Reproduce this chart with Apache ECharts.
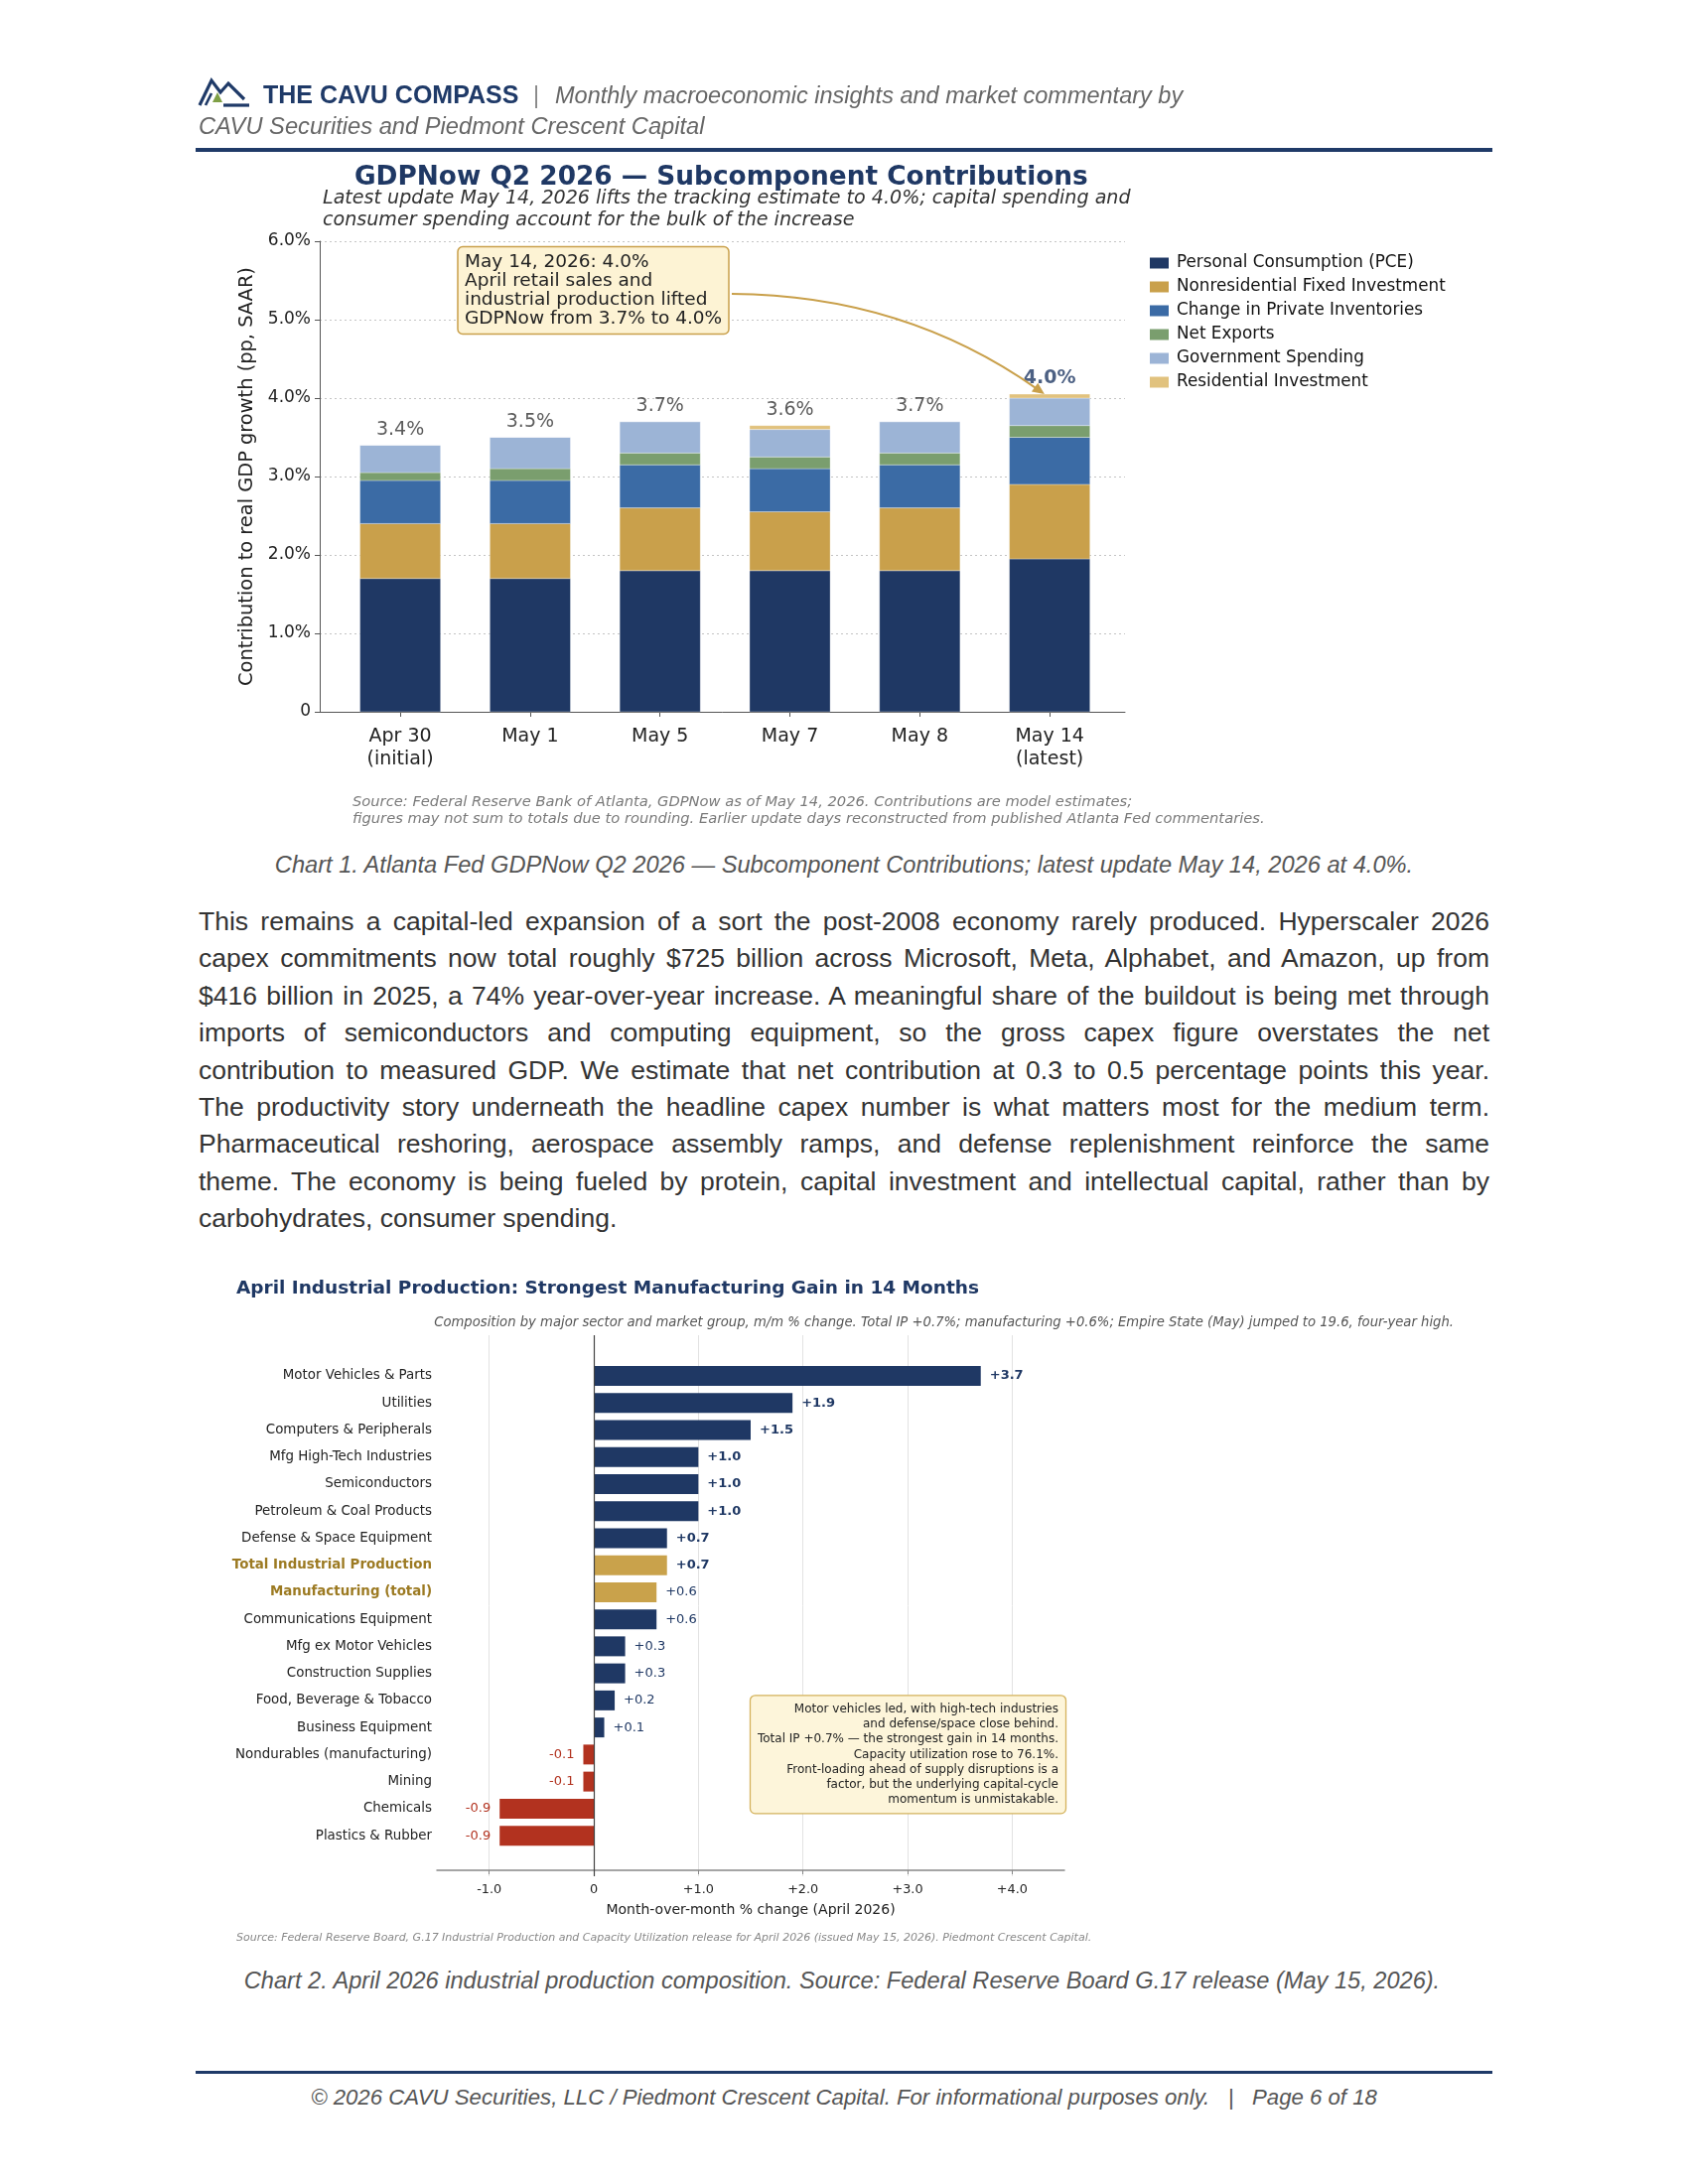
<!DOCTYPE html>
<html>
<head>
<meta charset="utf-8">
<script src="https://cdn.jsdelivr.net/npm/echarts@6/dist/echarts.min.js"></script>
<style>
html,body{margin:0;padding:0;background:#fff;}
#page{position:relative;width:1700px;height:2200px;overflow:hidden;font-family:'Liberation Sans',Arial,sans-serif;}
.abs{position:absolute;white-space:nowrap;}
#chart1{position:absolute;left:0;top:0;width:1700px;height:850px;}
#chart2{position:absolute;left:0;top:1260px;width:1700px;height:720px;}
.para{position:absolute;left:200px;top:910px;width:1300px;font-size:26.5px;line-height:37.4px;color:#333;}
.para div{text-align:justify;text-align-last:justify;}
.para div.last{text-align:left;text-align-last:left;}
</style>
</head>
<body>
<div id="page">
  <div id="chart1"></div>
  <div id="chart2"></div>

  <svg class="abs" style="left:198px;top:76px" width="58" height="34" viewBox="0 0 58 34">
    <path d="M3,30 L15,5 L24,17 L32,8 L48,24" fill="none" stroke="#1f3a68" stroke-width="3.2" stroke-linejoin="miter"/>
    <path d="M9,30 L15,18" fill="none" stroke="#1f3a68" stroke-width="2.6"/>
    <path d="M27,30 L53,30" fill="none" stroke="#1f3a68" stroke-width="3.2"/>
    <path d="M16,27 L21,17 L26,27 Z" fill="#7fa046"/>
  </svg>
  <div class="abs" style="left:265px;top:80px;font-weight:bold;font-size:25px;line-height:30px;color:#1f3a68;">THE CAVU COMPASS</div>
  <div class="abs" style="left:537px;top:81px;font-size:23.5px;line-height:30px;color:#888;">|</div>
  <div class="abs" style="left:559px;top:81px;font-style:italic;font-size:23.5px;line-height:30px;color:#666;">Monthly macroeconomic insights and market commentary by</div>
  <div class="abs" style="left:200px;top:112px;font-style:italic;font-size:23.7px;line-height:30px;color:#666;">CAVU Securities and Piedmont Crescent Capital</div>
  <div class="abs" style="left:197px;top:149px;width:1306px;height:4px;background:#1f3a68;"></div>

  <div class="abs" style="left:0;top:856px;width:1700px;text-align:center;font-style:italic;font-size:23.65px;line-height:30px;color:#555;">Chart 1. Atlanta Fed GDPNow Q2 2026 — Subcomponent Contributions; latest update May 14, 2026 at 4.0%.</div>

  <div class="para">
    <div>This remains a capital-led expansion of a sort the post-2008 economy rarely produced. Hyperscaler 2026</div>
    <div>capex commitments now total roughly $725 billion across Microsoft, Meta, Alphabet, and Amazon, up from</div>
    <div>$416 billion in 2025, a 74% year-over-year increase. A meaningful share of the buildout is being met through</div>
    <div>imports of semiconductors and computing equipment, so the gross capex figure overstates the net</div>
    <div>contribution to measured GDP. We estimate that net contribution at 0.3 to 0.5 percentage points this year.</div>
    <div>The productivity story underneath the headline capex number is what matters most for the medium term.</div>
    <div>Pharmaceutical reshoring, aerospace assembly ramps, and defense replenishment reinforce the same</div>
    <div>theme. The economy is being fueled by protein, capital investment and intellectual capital, rather than by</div>
    <div class="last">carbohydrates, consumer spending.</div>
  </div>

  <div class="abs" style="left:0;top:1980px;width:1696px;text-align:center;font-style:italic;font-size:23.6px;line-height:30px;color:#555;">Chart 2. April 2026 industrial production composition. Source: Federal Reserve Board G.17 release (May 15, 2026).</div>

  <div class="abs" style="left:197px;top:2086px;width:1306px;height:3px;background:#1f3a68;"></div>
  <div class="abs" style="left:0;top:2098px;width:1700px;text-align:center;font-style:italic;font-size:22.2px;line-height:30px;color:#555;">© 2026 CAVU Securities, LLC / Piedmont Crescent Capital. For informational purposes only. &nbsp;&nbsp;|&nbsp;&nbsp; Page 6 of 18</div>
</div>

<script>
// ---------------- Chart 1 data ----------------
var gdpCategories = ['Apr 30\n(initial)', 'May 1', 'May 5', 'May 7', 'May 8', 'May 14\n(latest)'];
var pce          = [1.70, 1.70, 1.80, 1.80, 1.80, 1.95];
var nonresFixed  = [0.70, 0.70, 0.80, 0.75, 0.80, 0.95];
var inventories  = [0.55, 0.55, 0.55, 0.55, 0.55, 0.60];
var netExports   = [0.10, 0.15, 0.15, 0.15, 0.15, 0.15];
var government   = [0.35, 0.40, 0.40, 0.35, 0.40, 0.35];
var residential  = [0.00, 0.00, 0.00, 0.05, 0.00, 0.05];
var headline     = [3.4, 3.5, 3.7, 3.6, 3.7, 4.0];
var componentNames = ['Personal Consumption (PCE)', 'Nonresidential Fixed Investment', 'Change in Private Inventories', 'Net Exports', 'Government Spending', 'Residential Investment'];
var yTicks1 = [0, 1, 2, 3, 4, 5, 6];

// ---------------- Chart 2 data ----------------
var ipSectors = ['Motor Vehicles & Parts', 'Utilities', 'Computers & Peripherals', 'Mfg High-Tech Industries', 'Semiconductors', 'Petroleum & Coal Products', 'Defense & Space Equipment', 'Total Industrial Production', 'Manufacturing (total)', 'Communications Equipment', 'Mfg ex Motor Vehicles', 'Construction Supplies', 'Food, Beverage & Tobacco', 'Business Equipment', 'Nondurables (manufacturing)', 'Mining', 'Chemicals', 'Plastics & Rubber'];
var ipChange = [3.7, 1.9, 1.5, 1.0, 1.0, 1.0, 0.7, 0.7, 0.6, 0.6, 0.3, 0.3, 0.2, 0.1, -0.1, -0.1, -0.9, -0.9];
var ipAggregates = ['Total Industrial Production', 'Manufacturing (total)'];
var xTicks2 = [-1, 0, 1, 2, 3, 4];

// ---------------- styles ----------------
var DJ = "'DejaVu Sans', sans-serif";
var NAVY = '#1f3864';
var componentColors = ['#1f3864', '#c9a04b', '#3b6ba5', '#7a9e6e', '#9cb4d6', '#e1c27e'];

// ---------------- Chart 1 ----------------
var components = [pce, nonresFixed, inventories, netExports, government, residential];
var cum = gdpCategories.map(function () { return 0; });
var stacked = components.map(function (arr) {
  return arr.map(function (v, i) { var lo = cum[i]; cum[i] = +(cum[i] + v).toFixed(4); return [i, lo, cum[i]]; });
});
var stackTops = cum.slice();
var catIdx = gdpCategories.map(function (c, i) { return i; });
var BARW = 0.62;

function renderSeg(params, api) {
  var x = api.value(0), lo = api.value(1), hi = api.value(2);
  var a = api.coord([x, lo]), b = api.coord([x, hi]);
  var w = api.size([BARW, 0])[0];
  return { type: 'rect', shape: { x: a[0] - w / 2, y: b[1], width: w, height: a[1] - b[1] }, style: api.style({ stroke: 'rgba(255,255,255,0.55)', lineWidth: 0.6 }) };
}

var series1 = componentNames.map(function (name, k) {
  return {
    type: 'custom', name: name, renderItem: renderSeg,
    itemStyle: { color: componentColors[k] },
    encode: { x: 0, y: [1, 2] },
    data: stacked[k], silent: true
  };
});
series1.push({
  type: 'scatter', name: 'totals', symbolSize: 2, itemStyle: { color: 'rgba(0,0,0,0)' }, silent: true,
  data: headline.map(function (h, i) {
    var item = { value: [i, stackTops[i]] };
    if (i === headline.length - 1) item.label = { fontWeight: 'bold', color: NAVY };
    return item;
  }),
  label: { show: true, position: 'top', distance: 5, fontSize: 19, color: '#333', fontFamily: DJ,
    formatter: function (p) { return headline[p.dataIndex].toFixed(1) + '%'; } }
});

var chart1 = echarts.init(document.getElementById('chart1'), null, { renderer: 'canvas' });
chart1.setOption({
  animation: false,
  textStyle: { fontFamily: DJ },
  title: [
    { text: 'GDPNow Q2 2026 — Subcomponent Contributions', left: 357, top: 164, padding: 0,
      textStyle: { fontFamily: DJ, fontSize: 26.35, fontWeight: 'bold', color: NAVY, lineHeight: 30 } },
    { text: 'Latest update May 14, 2026 lifts the tracking estimate to 4.0%; capital spending and\nconsumer spending account for the bulk of the increase', left: 325, top: 189, padding: 0,
      textStyle: { fontFamily: DJ, fontSize: 19.1, fontStyle: 'italic', fontWeight: 'normal', color: '#333', lineHeight: 22 } },
    { text: 'May 14, 2026: 4.0%\nApril retail sales and\nindustrial production lifted\nGDPNow from 3.7% to 4.0%', left: 461, top: 248, padding: [6.5, 7, 6.5, 7],
      backgroundColor: '#fdf3d4', borderColor: '#c9a04b', borderWidth: 1.5, borderRadius: 5,
      textStyle: { fontFamily: DJ, fontSize: 18.5, fontWeight: 'normal', color: '#222', lineHeight: 19 } },
    { text: 'Source: Federal Reserve Bank of Atlanta, GDPNow as of May 14, 2026. Contributions are model estimates;\nfigures may not sum to totals due to rounding. Earlier update days reconstructed from published Atlanta Fed commentaries.', left: 355, top: 799.5, padding: 0,
      textStyle: { fontFamily: DJ, fontSize: 14.7, fontStyle: 'italic', fontWeight: 'normal', color: '#7a7a7a', lineHeight: 17 } }
  ],
  legend: {
    orient: 'vertical', left: 1158, top: 256, padding: 0, icon: 'rect', itemWidth: 19, itemHeight: 11, itemGap: 6,
    selectedMode: false, data: componentNames,
    textStyle: { fontFamily: DJ, fontSize: 16.8, lineHeight: 18, color: '#111', padding: [0, 0, 0, 3] }
  },
  grid: { left: 322, right: 567, top: 243, bottom: 133, containLabel: false, outerBoundsMode: 'none' },
  xAxis: {
    type: 'value', min: -0.62, max: 5.58,
    axisLine: { show: true, onZero: false, lineStyle: { color: '#555', width: 1 } },
    axisTick: { show: true, customValues: catIdx, length: 5, lineStyle: { color: '#555' } },
    axisLabel: { customValues: catIdx, formatter: function (v) { return gdpCategories[Math.round(v)]; },
      fontFamily: DJ, fontSize: 19, lineHeight: 23, color: '#222', margin: 14 },
    splitLine: { show: false }
  },
  yAxis: {
    type: 'value', min: yTicks1[0], max: yTicks1[yTicks1.length - 1], interval: 1,
    axisLine: { show: true, onZero: false, lineStyle: { color: '#555', width: 1 } },
    axisTick: { show: true, length: 5, lineStyle: { color: '#555' } },
    axisLabel: { formatter: function (v) { return v === 0 ? '0' : v.toFixed(1) + '%'; }, fontFamily: DJ, fontSize: 17, color: '#222', margin: 9 },
    splitLine: { show: true, lineStyle: { color: '#c4c4c4', type: [2, 3], width: 1 } },
    name: 'Contribution to real GDP growth (pp, SAAR)', nameLocation: 'middle', nameGap: 64,
    nameTextStyle: { fontFamily: DJ, fontSize: 19.4, color: '#222' }
  },
  series: series1
});

// curved annotation arrow (box edge -> latest bar top)
(function () {
  var start = [737, 296];
  var tip = chart1.convertToPixel({ xAxisIndex: 0, yAxisIndex: 0 }, [catIdx[catIdx.length - 1] - 0.04, stackTops[stackTops.length - 1]]);
  var dx = tip[0] - start[0], dy = tip[1] - start[1];
  var len = Math.sqrt(dx * dx + dy * dy);
  var nx = dy / len, ny = -dx / len;
  var ctrl = [(start[0] + tip[0]) / 2 + nx * 52, (start[1] + tip[1]) / 2 + ny * 52];
  var tx = tip[0] - ctrl[0], ty = tip[1] - ctrl[1];
  var tl = Math.sqrt(tx * tx + ty * ty); tx /= tl; ty /= tl;
  var end = [tip[0] - tx * 9, tip[1] - ty * 9];
  var head = [tip, [tip[0] - tx * 12 - ty * 5.5, tip[1] - ty * 12 + tx * 5.5], [tip[0] - tx * 12 + ty * 5.5, tip[1] - ty * 12 - tx * 5.5]];
  chart1.setOption({
    graphic: [
      { type: 'bezierCurve', z: 100, silent: true,
        shape: { x1: start[0], y1: start[1], x2: end[0], y2: end[1], cpx1: ctrl[0], cpy1: ctrl[1] },
        style: { stroke: '#c9a04b', lineWidth: 2, fill: null } },
      { type: 'polygon', z: 100, silent: true, shape: { points: head }, style: { fill: '#c9a04b' } }
    ]
  });
})();

// ---------------- Chart 2 ----------------
var yCats = [' '].concat(ipSectors.map(function (s) {
  return ipAggregates.indexOf(s) >= 0 ? { value: s, textStyle: { fontWeight: 'bold', color: '#9c7a22' } } : s;
})).concat(['  ']);
var barData = ['-'].concat(ipChange.map(function (v, i) {
  var isAgg = ipAggregates.indexOf(ipSectors[i]) >= 0;
  return {
    value: v,
    itemStyle: { color: v < 0 ? '#b2321f' : (isAgg ? '#c9a24b' : NAVY) },
    label: { position: v < 0 ? 'left' : 'right', fontWeight: v >= 0.7 ? 'bold' : 'normal', color: v < 0 ? '#b2321f' : NAVY }
  };
})).concat(['-']);

var chart2 = echarts.init(document.getElementById('chart2'), null, { renderer: 'canvas' });
chart2.setOption({
  animation: false,
  textStyle: { fontFamily: DJ },
  title: [
    { text: 'April Industrial Production: Strongest Manufacturing Gain in 14 Months', left: 238, top: 27, padding: 0,
      textStyle: { fontFamily: DJ, fontSize: 18.5, fontWeight: 'bold', color: NAVY, lineHeight: 22 } },
    { text: 'Composition by major sector and market group, m/m % change. Total IP +0.7%; manufacturing +0.6%; Empire State (May) jumped to 19.6, four-year high.', left: 1464, textAlign: 'right', top: 64.5, padding: 0,
      textStyle: { fontFamily: DJ, fontSize: 13.2, fontStyle: 'italic', fontWeight: 'normal', color: '#555', lineHeight: 17 } },
    { text: 'Motor vehicles led, with high-tech industries\nand defense/space close behind.\nTotal IP +0.7% — the strongest gain in 14 months.\nCapacity utilization rose to 76.1%.\nFront-loading ahead of supply disruptions is a\nfactor, but the underlying capital-cycle\nmomentum is unmistakable.', left: 1058, textAlign: 'right', top: 448, padding: [6.3, 8, 6.3, 8],
      backgroundColor: '#fdf5da', borderColor: '#d4b25c', borderWidth: 1.3, borderRadius: 5,
      textStyle: { fontFamily: DJ, fontSize: 12, fontWeight: 'normal', color: '#222', lineHeight: 15.2 } },
    { text: 'Source: Federal Reserve Board, G.17 Industrial Production and Capacity Utilization release for April 2026 (issued May 15, 2026). Piedmont Crescent Capital.', left: 238, top: 685, padding: 0,
      textStyle: { fontFamily: DJ, fontSize: 11, fontStyle: 'italic', fontWeight: 'normal', color: '#888', lineHeight: 14 } }
  ],
  grid: { left: 440, right: 628, top: 85, bottom: 90, containLabel: false, outerBoundsMode: 'none' },
  xAxis: {
    type: 'value', min: -1.5, max: 4.5, offset: -6,
    axisLine: { show: true, onZero: false, lineStyle: { color: '#888', width: 1.5 } },
    axisTick: { show: true, customValues: xTicks2, length: 4, lineStyle: { color: '#888' } },
    axisLabel: { customValues: xTicks2, formatter: function (v) { return v === 0 ? '0' : (v > 0 ? '+' : '') + v.toFixed(1); },
      fontFamily: DJ, fontSize: 12.8, color: '#222', margin: 13 },
    splitLine: { show: true, lineStyle: { color: '#e2e2e2', width: 1 } },
    name: 'Month-over-month % change (April 2026)', nameLocation: 'middle', nameGap: 33,
    nameTextStyle: { fontFamily: DJ, fontSize: 14, color: '#222' }
  },
  yAxis: {
    type: 'category', inverse: true, data: yCats,
    axisLine: { show: false, onZero: false }, axisTick: { show: false },
    axisLabel: { fontFamily: DJ, fontSize: 13.4, color: '#222', margin: 5, interval: 0 },
    splitLine: { show: false }
  },
  series: [{
    type: 'bar', barWidth: 20, silent: true, data: barData,
    label: { show: true, distance: 9, fontFamily: DJ, fontSize: 13,
      formatter: function (p) { var v = p.value; return (v > 0 ? '+' : '') + v.toFixed(1); } },
    markLine: { silent: true, symbol: 'none', label: { show: false },
      lineStyle: { color: '#444', width: 1.2, type: 'solid' }, data: [{ xAxis: 0 }] }
  }]
});
</script>
</body>
</html>
